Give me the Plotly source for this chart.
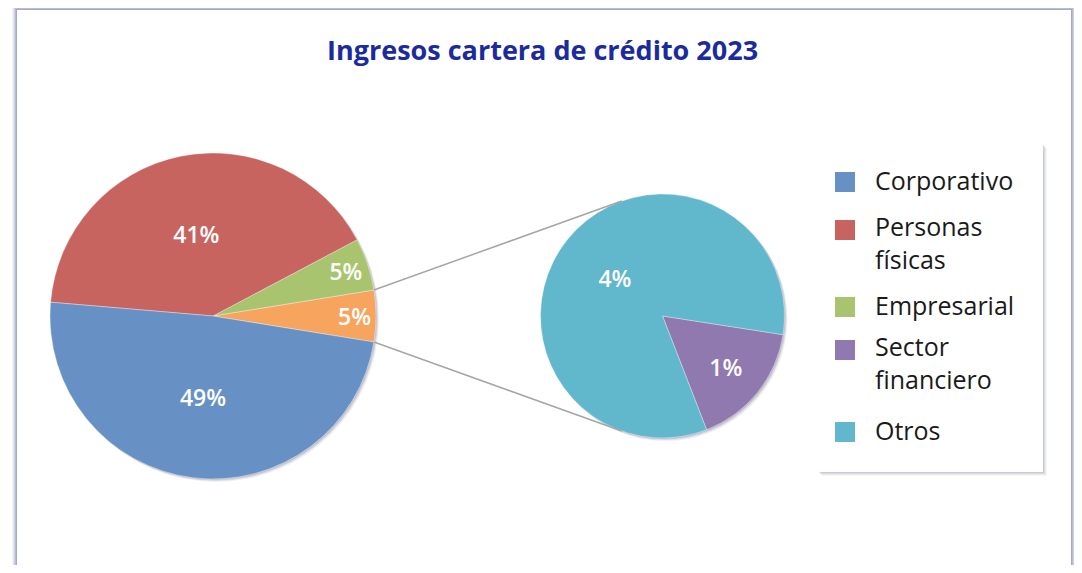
import math
import plotly.graph_objects as go

# datos
main_labels = ["Sector financiero + Otros", "Empresarial", "Personas físicas", "Corporativo"]
main_values = [5.1, 5.2, 40.9, 48.8]
main_colors = ["#F6A45E", "#A9C46F", "#C86460", "#6791C5"]

sub_labels = ["Sector financiero", "Otros"]
sub_values = [0.85, 4.25]
sub_colors = ["#8F79AE", "#61B7CC"]

legend_labels = ["Corporativo", "Personas<br>físicas", "Empresarial", "Sector<br>financiero", "Otros"]
legend_colors = ["#6791C5", "#C86460", "#A9C46F", "#8F79AE", "#61B7CC"]

title = "Ingresos cartera de crédito 2023"

# la pagina tiene 8px de margen en el body
SW, SH, OFF = 1082, 573, 8
W, H = SW - 2 * OFF, SH - 2 * OFF
FONT = "Open Sans"


def px(x):
    return (x - OFF) / W


def py(y):
    return 1 - (y - OFF) / H


# geometria (pixeles de pantalla)
mcx, mcy, mr = 213, 316, 163
scx, scy, sr = 662.5, 316, 122

main_span = main_values[0] / sum(main_values) * 360
sub_span = sub_values[0] / sum(sub_values) * 360

fig = go.Figure()

fig.add_trace(go.Pie(
    labels=main_labels, values=main_values, sort=False, direction="counterclockwise",
    rotation=90 - main_span / 2,
    marker=dict(colors=main_colors, line=dict(color="rgba(255,255,255,0.6)", width=0.6)),
    texttemplate=[f"{round(v)}%" for v in main_values], textposition="inside",
    insidetextorientation="horizontal",
    textfont=dict(family=FONT, size=23, color="white", weight=600),
    domain=dict(x=[px(mcx - mr), px(mcx + mr)], y=[py(mcy + mr), py(mcy - mr)]),
    showlegend=False, hoverinfo="label+value",
))

fig.add_trace(go.Pie(
    labels=sub_labels, values=sub_values, sort=False, direction="counterclockwise",
    rotation=90 + 68.8 - sub_span,
    marker=dict(colors=sub_colors, line=dict(color="rgba(255,255,255,0.6)", width=0.6)),
    texttemplate=[f"{round(v)}%" for v in sub_values], textposition="inside",
    insidetextorientation="horizontal",
    textfont=dict(family=FONT, size=23, color="white", weight=600),
    domain=dict(x=[px(scx - sr), px(scx + sr)], y=[py(scy + sr), py(scy - sr)]),
    showlegend=False, hoverinfo="label+value",
))

shapes = []

# tarjeta con sombra
card_l, card_r, card_t = 17, 1071, 10
for i, op in enumerate([0.10, 0.16, 0.24, 0.34, 0.45]):
    d = 5 - i
    shapes.append(dict(type="rect", xref="paper", yref="paper",
                       x0=px(card_l - d), x1=px(card_r + d), y0=py(SH + 20), y1=py(card_t - d),
                       fillcolor=f"rgba(140,148,185,{op})", line=dict(width=0), layer="below"))
shapes.append(dict(type="rect", xref="paper", yref="paper",
                   x0=px(card_l), x1=px(card_r), y0=py(SH + 20), y1=py(card_t),
                   fillcolor="white", line=dict(width=0), layer="below"))

# sombras de los pasteles
for cx, cy, r in [(mcx, mcy, mr), (scx, scy, sr)]:
    for d, op in [(3, 0.10), (2, 0.18), (1, 0.25)]:
        shapes.append(dict(type="circle", xref="paper", yref="paper",
                           x0=px(cx - r + d), x1=px(cx + r + d), y0=py(cy + r + d), y1=py(cy - r + d),
                           fillcolor=f"rgba(110,110,140,{op})", line=dict(width=0), layer="below"))

# lineas de conexion
half = math.radians(main_span / 2)
for sgn in (1, -1):
    a1 = sgn * half
    a2 = sgn * math.radians(109.5)
    shapes.append(dict(type="line", xref="paper", yref="paper",
                       x0=px(mcx + mr * math.cos(a1)), y0=py(mcy - mr * math.sin(a1)),
                       x1=px(scx + sr * math.cos(a2)), y1=py(scy - sr * math.sin(a2)),
                       line=dict(color="#A6A6A6", width=1.5)))

# caja de leyenda
lx0, ly0, lx1, ly1 = 819, 145, 1043, 472
for d, op in [(4, 0.06), (3, 0.10), (2, 0.14), (1, 0.18)]:
    shapes.append(dict(type="rect", xref="paper", yref="paper",
                       x0=px(lx0 + d - 1), x1=px(lx1 + d), y0=py(ly1 + d), y1=py(ly0 + d - 1),
                       fillcolor=f"rgba(120,125,160,{op})", line=dict(width=0)))
shapes.append(dict(type="rect", xref="paper", yref="paper",
                   x0=px(lx0), x1=px(lx1), y0=py(ly1), y1=py(ly0),
                   fillcolor="white", line=dict(width=0)))

annotations = []
legend_y = [182, 230, 307, 350, 432]
for lab, col, y in zip(legend_labels, legend_colors, legend_y):
    shapes.append(dict(type="rect", xref="paper", yref="paper",
                       x0=px(835), x1=px(855), y0=py(y + 10), y1=py(y - 10),
                       fillcolor=col, line=dict(width=0)))
    n = lab.count("<br>")
    annotations.append(dict(x=px(873), y=py(y - 2 + 14 * n), xref="paper", yref="paper",
                            xanchor="left", yanchor="middle", align="left", showarrow=False,
                            text=lab, font=dict(family=FONT, size=25, color="#1A1A1A")))

annotations.append(dict(x=px(542), y=py(49), xref="paper", yref="paper",
                        xanchor="center", yanchor="middle", showarrow=False,
                        text=f"<b>{title}</b>",
                        font=dict(family=FONT, size=27, color="#1B2B9E")))

fig.update_layout(
    width=W, height=H, margin=dict(l=0, r=0, t=0, b=0),
    paper_bgcolor="white", plot_bgcolor="white",
    shapes=shapes, annotations=annotations, showlegend=False,
)

fig.write_html("out.html")
